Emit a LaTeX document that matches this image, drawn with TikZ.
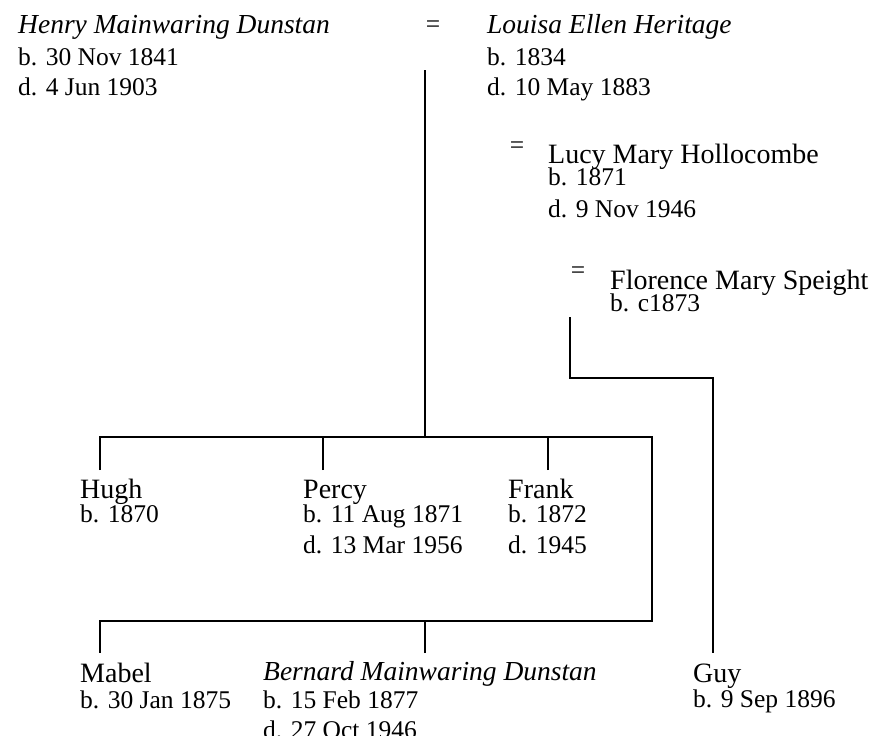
\documentclass[tikz,border=0pt]{standalone}
\usepackage{fontspec}
\setmainfont{Liberation Serif}
\usepackage{tikz}
\usetikzlibrary{calc}

\begin{document}
\begin{tikzpicture}[x=1pt, y=-1pt,
  every node/.style={inner sep=0pt, anchor=base west},
  pname/.style={font=\fontsize{28}{30}\selectfont},
  iname/.style={font=\fontsize{27.5}{30}\selectfont\itshape},
  pdate/.style={font=\fontsize{25.5}{30}\selectfont},
  wed/.style={anchor=center, font=\fontsize{25.5}{30}\selectfont},
  link/.style={line width=2.5pt}]

\useasboundingbox (0,0) rectangle (895,736);

% parents
\node[iname] (henry)    at (18,33) {Henry Mainwaring Dunstan};
\node[pdate] (henryb)   at (18,65) {b. 30 Nov 1841};
\node[pdate] (henryd)   at (18,95) {d. 4 Jun 1903};
\node[wed]   (eqa)      at (433,27) {=};
\node[iname] (louisa)   at (487,33) {Louisa Ellen Heritage};
\node[pdate] (louisab)  at (487,65) {b. 1834};
\node[pdate] (louisad)  at (487,95) {d. 10 May 1883};

\node[wed]   (eqb)      at (517,148) {=};
\node[pname] (lucy)     at (548,163) {Lucy Mary Hollocombe};
\node[pdate] (lucyb)    at (548,185) {b. 1871};
\node[pdate] (lucyd)    at (548,217) {d. 9 Nov 1946};

\node[wed]   (eqc)      at (578,273) {=};
\node[pname] (florence) at (610,289) {Florence Mary Speight};
\node[pdate] (florenceb) at (610,311) {b. c1873};

% children
\node[pname] (hugh)     at (80,498) {Hugh};
\node[pdate] (hughb)    at (80,522) {b. 1870};
\node[pname] (percy)    at (303,498) {Percy};
\node[pdate] (percyb)   at (303,522) {b. 11 Aug 1871};
\node[pdate] (percyd)   at (303,553) {d. 13 Mar 1956};
\node[pname] (frank)    at (508,498) {Frank};
\node[pdate] (frankb)   at (508,522) {b. 1872};
\node[pdate] (frankd)   at (508,553) {d. 1945};

\node[pname] (mabel)    at (80,682) {Mabel};
\node[pdate] (mabelb)   at (80,708) {b. 30 Jan 1875};
\node[iname] (bernard)  at (263,680) {Bernard Mainwaring Dunstan};
\node[pdate] (bernardb) at (263,708) {b. 15 Feb 1877};
\node[pdate] (bernardd) at (263,738) {d. 27 Oct 1946};
\node[pname] (guy)      at (693,682) {Guy};
\node[pdate] (guyb)     at (693,707) {b. 9 Sep 1896};

\coordinate (wedline) at (425,70);
\coordinate (rowa) at (652,437);
\coordinate (rowb) at (652,621);
\coordinate (guyturn) at (713,378);

\draw[link] (wedline) -- (wedline |- rowa);
\draw[link] ($(hugh.base west)+(20,-28)$) |- (rowa) -- (rowb) -| ($(mabel.base west)+(20,-29)$);
\draw[link] ($(percy.base west)+(20,-28)$) |- (rowa);
\draw[link] ($(frank.base west)+(40,-28)$) |- (rowa);
\draw[link] ($(bernard.base west)+(162,-27)$) |- (rowb);
\draw[link] ($(florenceb.base west)+(-40,6)$) |- (guyturn) -- ($(guy.base west)+(20,-29)$);

\end{tikzpicture}
\end{document}
